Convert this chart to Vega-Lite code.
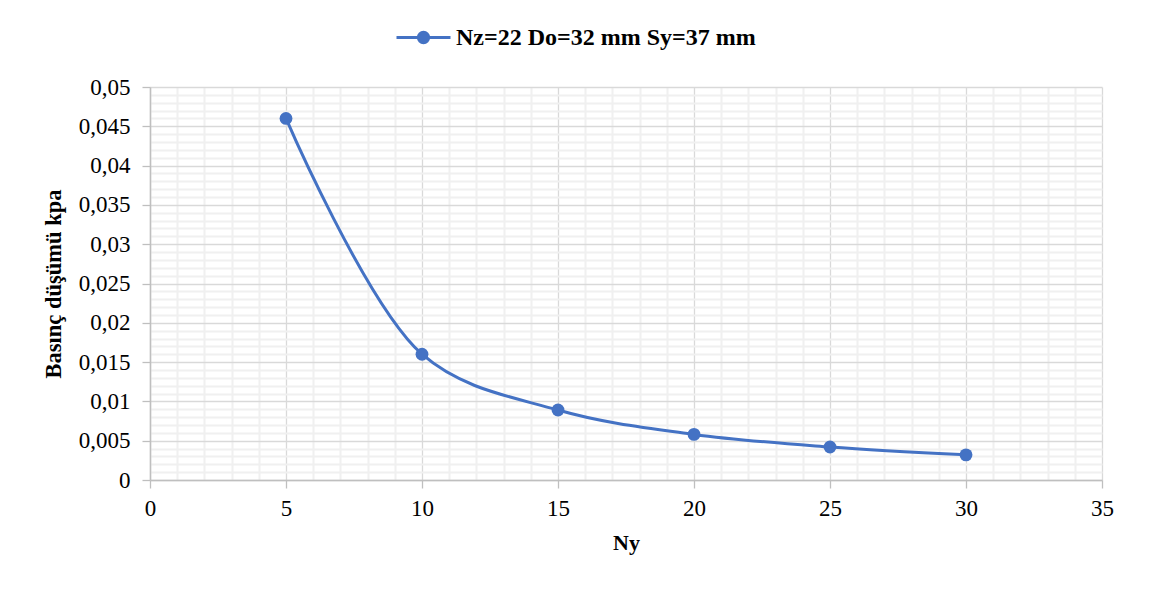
{
  "$schema": "https://vega.github.io/schema/vega-lite/v6.json",
  "autosize": {"type": "none"},
  "width": 952,
  "height": 393,
  "padding": {"left": 150, "top": 87, "right": 48, "bottom": 112},
  "background": "white",
  "config": {
    "view": {"stroke": null},
    "font": "Liberation Serif",
    "axis": {"labelFont": "Liberation Serif", "titleFont": "Liberation Serif"},
    "legend": {"labelFont": "Liberation Serif"}
  },
  "data": {
    "values": [
      {"Ny": 5, "dp": 0.046, "s": "Nz=22 Do=32 mm Sy=37 mm"},
      {"Ny": 10, "dp": 0.016, "s": "Nz=22 Do=32 mm Sy=37 mm"},
      {"Ny": 15, "dp": 0.0089, "s": "Nz=22 Do=32 mm Sy=37 mm"},
      {"Ny": 20, "dp": 0.0058, "s": "Nz=22 Do=32 mm Sy=37 mm"},
      {"Ny": 25, "dp": 0.0042, "s": "Nz=22 Do=32 mm Sy=37 mm"},
      {"Ny": 30, "dp": 0.0032, "s": "Nz=22 Do=32 mm Sy=37 mm"}
    ]
  },
  "encoding": {
    "x": {
      "field": "Ny", "type": "quantitative",
      "scale": {"domain": [0, 35], "nice": false, "zero": true},
      "axis": {
        "title": "Ny",
        "titleFontSize": 22, "titleFontWeight": "bold", "titleColor": "black",
        "titlePadding": 12,
        "values": [0,1,2,3,4,5,6,7,8,9,10,11,12,13,14,15,16,17,18,19,20,21,22,23,24,25,26,27,28,29,30,31,32,33,34,35],
        "labelExpr": "datum.value % 5 === 0 ? datum.label : ''",
        "labelFontSize": 23, "labelColor": "black", "labelPadding": 9,
        "labelFlush": false, "labelOverlap": false,
        "grid": true,
        "gridColor": {"condition": {"test": "datum.value % 5 === 0", "value": "#D9D9D9"}, "value": "#F0F0F0"},
        "gridWidth": {"condition": {"test": "datum.value % 5 === 0", "value": 1.3}, "value": 2},
        "tickColor": {"condition": {"test": "datum.value % 5 === 0", "value": "#BFBFBF"}, "value": "transparent"},
        "tickSize": 8, "tickWidth": 1.3,
        "domainColor": "#BFBFBF", "domainWidth": 1.5
      }
    },
    "y": {
      "field": "dp", "type": "quantitative",
      "scale": {"domain": [0, 0.05], "nice": false},
      "axis": {
        "title": "Basınç düşümü kpa",
        "titleFontSize": 22.5, "titleFontWeight": "bold", "titleColor": "black",
        "titlePadding": 13,
        "values": [0,0.001,0.002,0.003,0.004,0.005,0.006,0.007,0.008,0.009,0.01,0.011,0.012,0.013,0.014,0.015,0.016,0.017,0.018,0.019,0.02,0.021,0.022,0.023,0.024,0.025,0.026,0.027,0.028,0.029,0.03,0.031,0.032,0.033,0.034,0.035,0.036,0.037,0.038,0.039,0.04,0.041,0.042,0.043,0.044,0.045,0.046,0.047,0.048,0.049,0.05],
        "format": "~g",
        "labelExpr": "round(datum.value*1000) % 5 === 0 ? replace(datum.label, '.', ',') : ''",
        "labelFontSize": 23, "labelColor": "black", "labelPadding": 12,
        "labelFlush": false, "labelOverlap": false,
        "grid": true,
        "gridColor": {"condition": {"test": "round(datum.value*1000) % 5 === 0", "value": "#D9D9D9"}, "value": "#F0F0F0"},
        "gridWidth": {"condition": {"test": "round(datum.value*1000) % 5 === 0", "value": 1.3}, "value": 2},
        "tickColor": {"condition": {"test": "round(datum.value*1000) % 5 === 0", "value": "#BFBFBF"}, "value": "transparent"},
        "tickSize": 8, "tickWidth": 1.3,
        "domainColor": "#BFBFBF", "domainWidth": 1.5
      }
    },
    "color": {
      "field": "s", "type": "nominal",
      "scale": {"range": ["#4472C4"]},
      "legend": {
        "title": null,
        "orient": "none",
        "legendX": 245,
        "legendY": -78,
        "symbolType": "M-1,0L1,0M-0.19,0A0.19,0.19 0 1,1 0.19,0A0.19,0.19 0 1,1 -0.19,0Z",
        "symbolSize": 2916,
        "symbolStrokeWidth": 3,
        "symbolFillColor": "#4472C4",
        "symbolStrokeColor": "#4472C4",
        "labelFontSize": 24, "labelFontWeight": "bold", "labelColor": "black",
        "labelOffset": 4,
        "labelLimit": 600
      }
    }
  },
  "layer": [
    {"mark": {"type": "line", "interpolate": "catmull-rom", "strokeWidth": 3}},
    {"mark": {"type": "point", "filled": true, "opacity": 1, "size": 165, "shape": "circle"}}
  ]
}
